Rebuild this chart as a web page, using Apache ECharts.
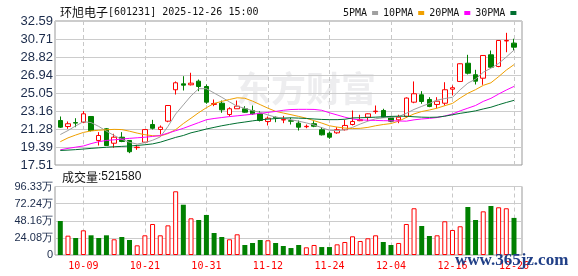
<!DOCTYPE html>
<html><head><meta charset="utf-8">
<script src="https://cdn.jsdelivr.net/npm/echarts@6/dist/echarts.min.js"></script>
<style>html,body{margin:0;padding:0;background:#fff;}#c{width:578px;height:276px;}</style>
</head><body><div id="c"></div>
<script>
const stockName = '环旭电子';
const stockCode = '[601231]';
const stamp = '2025-12-26 15:00';
const volTitle = '成交量';
const maNames = ['5PMA', '10PMA', '20PMA', '30PMA'];

const dates = ['09-26','09-29','09-30','10-09','10-10','10-13','10-14','10-15','10-16','10-17',
  '10-20','10-21','10-22','10-23','10-24','10-27','10-28','10-29','10-30','10-31',
  '11-03','11-04','11-05','11-06','11-07','11-10','11-11','11-12','11-13','11-14',
  '11-17','11-18','11-19','11-20','11-21','11-24','11-25','11-26','11-27','11-28',
  '12-01','12-02','12-03','12-04','12-05','12-08','12-09','12-10','12-11','12-12',
  '12-15','12-16','12-17','12-18','12-19','12-22','12-23','12-24','12-25','12-26'];
const xLabelDates = ['10-09','10-21','10-31','11-12','11-24','12-04','12-16','12-26'];

const opens = [22.17,21.54,21.95,21.99,22.59,20.08,21.30,19.79,20.42,20.08,
  19.33,19.90,21.75,21.23,22.10,25.39,26.01,25.91,26.29,25.73,
  23.85,23.98,22.80,23.40,23.40,23.22,22.87,22.07,22.50,22.22,
  22.15,21.89,21.52,21.83,21.20,20.84,20.88,21.20,21.75,22.15,
  22.52,23.10,23.22,22.45,22.24,22.59,24.09,24.86,24.37,23.85,
  23.98,25.45,26.26,28.17,26.96,26.60,29.05,27.83,30.50,30.27];
const closes = [21.47,21.83,21.90,22.87,21.12,20.60,19.55,20.42,19.97,18.90,
  19.38,21.22,21.36,21.47,23.74,26.12,25.87,26.08,25.73,24.09,
  23.95,23.29,23.40,23.67,23.04,22.87,22.17,22.41,22.45,22.28,
  22.10,21.47,21.56,21.57,20.67,20.42,21.20,21.65,22.07,22.25,
  22.87,23.15,22.52,22.10,22.52,24.52,24.97,24.16,23.64,24.19,
  25.39,25.60,28.11,27.12,26.29,28.98,27.75,30.55,30.55,29.85];
const lows = [21.39,21.30,21.47,21.89,21.02,19.55,19.50,19.31,19.90,18.75,
  19.10,19.83,21.23,20.70,21.99,24.89,25.31,25.84,25.24,23.92,
  23.67,22.98,22.59,23.40,22.98,22.77,22.07,21.65,21.99,21.89,
  21.75,21.12,21.36,21.47,20.60,20.25,20.78,21.12,21.65,22.10,
  22.10,22.87,22.45,21.99,21.89,22.45,23.98,23.92,23.56,23.45,
  23.74,24.79,26.20,26.99,25.94,25.91,27.69,27.75,29.32,29.50];
const highs = [22.59,22.07,22.41,23.15,22.62,20.95,21.38,20.78,20.95,20.12,
  19.62,21.25,22.24,21.65,23.78,26.26,26.81,27.17,26.46,25.94,
  24.37,24.26,23.56,24.26,23.67,23.74,23.15,22.59,22.59,22.65,
  22.45,22.17,21.75,22.10,21.47,21.02,21.47,22.24,23.22,22.77,
  22.90,23.74,23.40,22.62,22.77,24.59,26.26,25.24,24.61,24.61,
  26.18,25.84,28.15,29.05,27.48,29.00,29.50,30.60,31.35,30.73];

const volumes = [478000,272000,239000,347000,277000,239000,277000,221000,253000,211000,
  136000,277000,436000,277000,417000,896000,707000,516000,492000,563000,
  309000,253000,221000,291000,141000,169000,211000,207000,169000,127000,
  98000,141000,108000,141000,112000,112000,150000,183000,263000,197000,
  235000,277000,183000,141000,169000,436000,657000,408000,267000,277000,
  474000,352000,404000,675000,492000,614000,689000,671000,657000,521580];
const volUp = [0,1,0,1,0,0,0,1,0,0, 1,1,1,1,1,1,0,1,0,0, 0,0,1,1,0,0,0,1,0,0,
  0,0,1,1,0,0,1,1,1,1, 1,1,0,0,1,1,1,0,0,1, 1,1,1,0,0,1,0,1,1,0];

const ma5 = [20.70,21.12,21.60,22.05,21.95,21.55,21.05,20.60,20.20,19.88,
  19.70,19.85,20.10,20.45,21.55,22.85,23.80,24.75,25.50,25.50,
  25.05,24.60,24.12,23.66,23.45,23.20,23.02,22.75,22.52,22.42,
  22.25,22.10,21.92,21.70,21.42,21.15,21.10,21.20,21.45,21.80,
  22.10,22.35,22.45,22.50,22.58,22.92,23.33,23.65,23.96,24.30,
  24.47,24.60,25.39,26.08,26.50,27.22,27.65,28.14,28.82,29.54];
const ma10 = [19.95,20.35,20.65,20.92,21.08,21.15,21.20,21.24,21.22,21.05,
  20.85,20.68,20.58,20.55,20.80,21.21,21.85,22.41,22.99,23.51,
  23.96,24.17,24.37,24.55,24.50,24.20,23.83,23.46,23.13,22.95,
  22.78,22.60,22.41,22.15,21.90,21.62,21.48,21.38,21.33,21.35,
  21.45,21.62,21.75,21.85,22.10,22.49,22.86,23.11,23.27,23.46,
  23.72,23.96,24.52,25.02,25.40,25.85,26.12,26.76,27.45,28.02];
const ma20 = [19.10,19.25,19.38,19.50,19.75,19.95,20.08,20.15,20.22,20.30,
  20.36,20.42,20.50,20.60,20.85,21.10,21.35,21.65,21.95,22.25,
  22.38,22.48,22.58,22.66,22.74,22.83,22.92,23.02,23.12,23.24,
  23.32,23.34,23.34,23.33,23.24,22.98,22.75,22.52,22.33,22.23,
  22.20,22.18,22.15,22.14,22.12,22.10,22.24,22.33,22.39,22.48,
  22.64,22.85,23.18,23.46,23.74,24.17,24.49,24.94,25.36,25.74];
const ma30 = [19.03,19.07,19.12,19.18,19.25,19.31,19.37,19.42,19.46,19.50,
  19.56,19.63,19.72,19.90,20.15,20.40,20.60,20.88,21.07,21.28,
  21.45,21.62,21.76,21.90,22.01,22.13,22.24,22.31,22.37,22.42,
  22.45,22.42,22.38,22.33,22.28,22.26,22.26,22.30,22.44,22.46,
  22.48,22.52,22.56,22.60,22.62,22.62,22.56,22.52,22.50,22.52,
  22.62,22.77,22.92,23.04,23.18,23.38,23.56,23.82,24.06,24.28];

const priceTicks = ['17.51','19.39','21.28','23.16','25.05','26.94','28.82','30.71','32.59'];
const volTicks = ['0','24.08万','48.16万','72.24万','96.33万'];
const priceMin = 17.51, priceMax = 32.59, volMax = 963300;

const RED = '#ff0000', GREEN = '#008000';
const maColors = ['#a0a0a0', '#f0a000', '#ff00ff', '#006f30'];
const maData = [ma5, ma10, ma20, ma30];

const candleData = dates.map((d, i) => [opens[i], closes[i], lows[i], highs[i]]);
const volData = volumes.map((v, i) => ({
  value: v,
  itemStyle: volUp[i]
    ? { color: '#ffffff', borderColor: RED, borderWidth: 1 }
    : { color: GREEN, borderColor: GREEN, borderWidth: 0 }
}));
const showDate = (i) => xLabelDates.indexOf(dates[i]) >= 0;

const chart = echarts.init(document.getElementById('c'));
const option = {
  animation: false,
  backgroundColor: '#ffffff',
  title: [
    { left: 55, top: 1, text: '{a|' + stockName + '}{b|' + stockCode + ' ' + stamp + '}',
      textStyle: { rich: {
        a: { fontFamily: 'Noto Sans CJK SC', fontSize: 12, fontWeight: 'normal', color: '#111' },
        b: { fontFamily: 'DejaVu Sans Mono', fontSize: 10, fontWeight: 'normal', color: '#111' } } } },
    { left: 57, top: 166, text: '{a|' + volTitle + '}{b|:' + volumes[volumes.length - 1] + '}',
      textStyle: { rich: {
        a: { fontFamily: 'Noto Sans CJK SC', fontSize: 12, fontWeight: 'normal', color: '#111' },
        b: { fontFamily: 'Liberation Sans', fontSize: 12, fontWeight: 'normal', color: '#111' } } } }
  ],
  legend: {
    left: 338, top: 3, align: 'right', icon: 'rect', itemWidth: 6, itemHeight: 4, itemGap: 5,
    textStyle: { fontFamily: 'DejaVu Sans Mono', fontSize: 10, color: '#111' },
    data: maNames
  },
  graphic: [
    { type: 'text', left: 236, top: 71, z: -10, silent: true,
      style: { text: '东方财富', font: 'bold 35px "Noto Sans CJK SC"', fill: 'rgba(215,215,220,0.45)' } },
    { type: 'text', left: 455, top: 252, z: 100, silent: true,
      style: { text: 'www.365jz.com', font: 'bold 17px "Liberation Serif"', fill: '#203f87' } }
  ],
  grid: [
    { left: 55, top: 21, width: 467, height: 144, show: true, borderColor: '#999', borderWidth: 1 },
    { left: 60.3, top: 21, width: 453.7, height: 144 },
    { left: 55, top: 186.5, width: 467, height: 68.5, show: true, borderColor: '#999', borderWidth: 1 },
    { left: 60.3, top: 186.5, width: 453.7, height: 68.5 }
  ],
  xAxis: [
    { gridIndex: 0, type: 'value', show: false, min: 0, max: 1 },
    { gridIndex: 1, type: 'category', data: dates, boundaryGap: false,
      axisLine: { show: false }, axisTick: { show: false }, axisLabel: { show: false },
      splitLine: { show: true, interval: (i) => showDate(i), lineStyle: { color: '#c8c8c8', type: [4, 3], width: 1 } } },
    { gridIndex: 2, type: 'value', show: false, min: 0, max: 1 },
    { gridIndex: 3, type: 'category', data: dates, boundaryGap: false,
      axisLine: { show: false }, axisTick: { show: false },
      axisLabel: { interval: (i) => showDate(i), color: RED, fontFamily: 'DejaVu Sans Mono', fontSize: 10, margin: 6 },
      splitLine: { show: true, interval: (i) => showDate(i), lineStyle: { color: '#c8c8c8', type: [4, 3], width: 1 } } }
  ],
  yAxis: [
    { gridIndex: 0, type: 'value', min: 0, max: priceTicks.length - 1, interval: 1,
      axisLine: { show: false }, axisTick: { show: false },
      axisLabel: { formatter: (v) => priceTicks[v], margin: 2, color: '#1b2b4b', fontFamily: 'Liberation Sans', fontSize: 13 },
      splitLine: { show: true, lineStyle: { color: '#cccccc', width: 1 } } },
    { gridIndex: 1, type: 'value', min: priceMin, max: priceMax, show: false, splitLine: { show: false } },
    { gridIndex: 2, type: 'value', min: 0, max: volTicks.length - 1, interval: 1,
      axisLine: { show: false }, axisTick: { show: false },
      axisLabel: { formatter: (v) => volTicks[v], margin: 2, color: '#1b2b4b', fontFamily: 'Liberation Sans', fontSize: 11 },
      splitLine: { show: true, lineStyle: { color: '#cccccc', width: 1 } } },
    { gridIndex: 3, type: 'value', min: 0, max: volMax, show: false, splitLine: { show: false } }
  ],
  series: [
    { type: 'candlestick', name: 'K', xAxisIndex: 1, yAxisIndex: 1, data: candleData,
      barWidth: 5, clip: false,
      itemStyle: { color: '#ffffff', color0: GREEN, borderColor: RED, borderColor0: GREEN, borderWidth: 1 } },
    ...maNames.map((n, k) => ({
      type: 'line', name: n, xAxisIndex: 1, yAxisIndex: 1, data: maData[k],
      symbol: 'none', showSymbol: false, clip: false,
      itemStyle: { color: maColors[k] }, lineStyle: { color: maColors[k], width: 1 }
    })),
    { type: 'bar', name: 'VOL', xAxisIndex: 3, yAxisIndex: 3, data: volData, barWidth: 5, clip: false }
  ]
};
chart.setOption(option);
</script></body></html>
